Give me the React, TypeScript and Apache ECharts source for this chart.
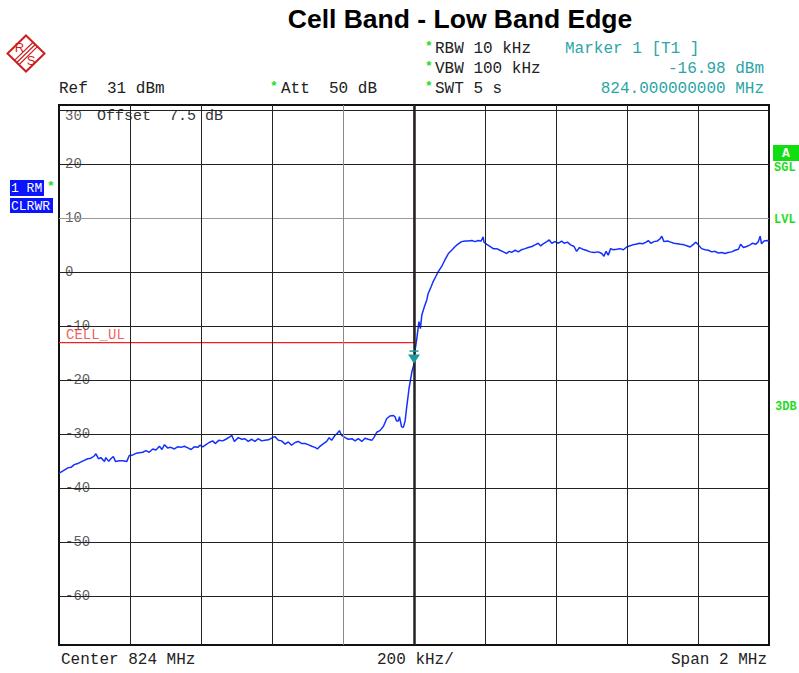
import React, { useEffect, useRef } from "react";
import * as echarts from "echarts";

// Spectrum analyzer trace: frequency (MHz) and level (dBm)
const traceFreq = [
  823.000, 823.010, 823.025, 823.034, 823.043, 823.053, 823.062, 823.071, 823.081, 823.090,
  823.099, 823.104, 823.111, 823.118, 823.128, 823.132, 823.140, 823.146, 823.153, 823.159,
  823.170, 823.179, 823.191, 823.198, 823.208, 823.217, 823.226, 823.236, 823.245, 823.254,
  823.264, 823.273, 823.283, 823.290, 823.297, 823.306, 823.315, 823.325, 823.334, 823.344,
  823.353, 823.363, 823.372, 823.381, 823.391, 823.397, 823.405, 823.414, 823.423, 823.433,
  823.440, 823.450, 823.461, 823.470, 823.480, 823.487, 823.494, 823.505, 823.515, 823.524,
  823.533, 823.543, 823.552, 823.561, 823.571, 823.580, 823.590, 823.599, 823.608, 823.618,
  823.627, 823.637, 823.646, 823.655, 823.665, 823.674, 823.684, 823.693, 823.702, 823.712,
  823.721, 823.728, 823.735, 823.745, 823.754, 823.761, 823.768, 823.777, 823.784, 823.790,
  823.796, 823.806, 823.815, 823.825, 823.834, 823.843, 823.853, 823.862, 823.871, 823.881,
  823.887, 823.895, 823.904, 823.914, 823.923, 823.932, 823.942, 823.946, 823.951, 823.956,
  823.959, 823.965, 823.970, 823.975, 823.979, 823.986, 823.994, 824.000, 824.003, 824.008,
  824.014, 824.018, 824.022, 824.029, 824.036, 824.040, 824.048, 824.054, 824.061, 824.068,
  824.078, 824.087, 824.097, 824.106, 824.116, 824.123, 824.134, 824.144, 824.153, 824.163,
  824.172, 824.181, 824.189, 824.195, 824.197, 824.205, 824.214, 824.223, 824.233, 824.242,
  824.252, 824.261, 824.268, 824.275, 824.285, 824.294, 824.303, 824.313, 824.322, 824.332,
  824.341, 824.350, 824.357, 824.364, 824.374, 824.381, 824.388, 824.397, 824.407, 824.416,
  824.423, 824.432, 824.441, 824.451, 824.458, 824.466, 824.475, 824.485, 824.496, 824.507,
  824.519, 824.529, 824.535, 824.541, 824.547, 824.554, 824.561, 824.571, 824.580, 824.590,
  824.599, 824.607, 824.616, 824.625, 824.635, 824.644, 824.654, 824.660, 824.667, 824.676,
  824.685, 824.693, 824.698, 824.704, 824.714, 824.723, 824.732, 824.742, 824.751, 824.761,
  824.770, 824.778, 824.787, 824.794, 824.801, 824.810, 824.820, 824.829, 824.839, 824.848,
  824.857, 824.867, 824.876, 824.885, 824.895, 824.904, 824.914, 824.920, 824.928, 824.937,
  824.947, 824.954, 824.963, 824.970, 824.975, 824.979, 824.986, 824.995, 825.000,
];

const traceLevel = [
  -37.2, -36.8, -36.2, -36.1, -35.6, -35.4, -35.1, -34.8, -34.5, -34.4,
  -34.0, -33.6, -34.5, -34.3, -35.0, -34.3, -35.0, -34.5, -34.1, -35.0,
  -34.9, -34.9, -35.0, -33.9, -33.8, -33.5, -33.4, -33.3, -33.0, -33.3,
  -32.7, -32.9, -32.2, -32.8, -31.9, -32.5, -32.4, -32.7, -32.3, -32.4,
  -32.2, -32.5, -32.8, -32.3, -32.4, -32.0, -32.3, -31.9, -31.5, -31.2,
  -31.7, -31.1, -31.2, -30.9, -30.5, -30.2, -31.3, -30.6, -30.9, -30.8,
  -31.3, -30.9, -31.3, -30.8, -31.2, -31.1, -31.0, -30.7, -30.4, -31.1,
  -31.2, -31.8, -31.4, -32.0, -31.5, -31.3, -31.7, -31.7, -31.9, -32.2,
  -32.4, -32.7, -32.2, -31.7, -31.3, -30.6, -31.1, -30.2, -29.8, -29.3,
  -30.2, -30.6, -30.9, -30.8, -31.2, -30.8, -31.3, -30.7, -30.9, -31.1,
  -30.6, -29.6, -29.3, -28.5, -27.1, -26.6, -26.5, -26.7, -27.5, -27.5,
  -26.7, -28.6, -28.7, -27.5, -25.2, -21.5, -18.4, -16.98, -14.4, -12.2,
  -9.1, -10.4, -7.9, -6.4, -5.1, -3.9, -2.7, -1.7, -0.8, 0.1,
  1.1, 2.3, 3.5, 4.1, 4.8, 5.2, 5.7, 5.8, 5.8, 5.9,
  5.7, 5.9, 5.8, 6.6, 5.6, 5.2, 4.8, 4.4, 4.4, 4.1,
  3.8, 3.5, 3.9, 3.7, 4.1, 3.8, 4.2, 4.4, 4.6, 4.8,
  5.1, 5.4, 4.9, 5.3, 5.7, 6.0, 5.4, 5.7, 5.4, 5.8,
  5.4, 5.6, 5.1, 4.8, 3.9, 4.6, 4.3, 4.1, 3.8, 3.7,
  3.8, 3.5, 3.0, 3.9, 3.2, 4.4, 4.2, 4.3, 4.4, 4.2,
  4.7, 4.9, 5.1, 5.2, 5.4, 5.3, 5.6, 5.9, 5.4, 5.7,
  5.8, 6.2, 6.7, 5.7, 5.8, 5.6, 5.4, 5.3, 5.2, 5.1,
  4.9, 4.7, 5.2, 5.6, 5.1, 4.4, 4.2, 4.1, 3.8, 3.9,
  3.6, 3.7, 3.5, 3.7, 3.8, 4.1, 4.3, 5.2, 4.6, 4.8,
  5.1, 5.4, 5.2, 5.7, 6.7, 5.3, 5.8, 5.9, 5.8,
];

// Display range
const freqStart = 823;
const freqStop = 825;
const refLevel = 31;
const bottomLevel = -69;

// Graticule
const freqGridLines = [823.2, 823.4, 823.6, 823.8, 824.0, 824.2, 824.4, 824.6, 824.8];
const levelGridLines = [30, 20, 10, 0, -10, -20, -30, -40, -50, -60];
const levelTickLabels = [30, 20, 10, 0, -10, -20, -30, -40, -50, -60];

// Limit line CELL_UL
const limitName = "CELL_UL";
const limitFreq = [823, 824, 824];
const limitLevel = [-13, -13, 31];

// Marker 1
const markerFreq = 824.0;
const markerLevel = -16.98;

const MONO = '"Courier New", "Liberation Mono", monospace';
const TEAL = "#2aa6a6";
const GREEN = "#22dd22";
const RED_LOGO = "#cc1f1f";

export default function App() {
  const ref = useRef<HTMLDivElement>(null);

  useEffect(() => {
    if (!ref.current) return;
    const chart = echarts.init(ref.current, null, { renderer: "svg" });

    const gridMarks = [
      ...levelGridLines.map((v) => ({
        yAxis: v,
        lineStyle: { color: v === 10 ? "#9a9a9a" : "#222", width: 1, type: "solid" },
      })),
      ...freqGridLines.map((v) => ({
        xAxis: v,
        lineStyle: {
          color: v === 823.8 ? "#8a8a8a" : "#222",
          width: v === 824.0 ? 2.5 : 1,
          type: "solid",
        },
      })),
    ];

    const monoText = (
      text: string,
      x: number,
      y: number,
      fill = "#222",
      align = "left",
      size = 16
    ) => ({
      type: "text",
      x,
      y,
      silent: true,
      style: {
        text,
        fill,
        font: `${size}px ${MONO}`,
        textAlign: align,
        textVerticalAlign: "middle",
      },
    });

    const star = (x: number, y: number) => ({
      type: "text",
      x,
      y,
      silent: true,
      style: {
        text: "*",
        fill: GREEN,
        font: `bold 13px ${MONO}`,
        textAlign: "left",
        textVerticalAlign: "middle",
      },
    });

    const option = {
      animation: false,
      backgroundColor: "#fff",
      grid: {
        left: 59,
        right: 30,
        top: 105,
        bottom: 28,
        show: true,
        borderColor: "#111",
        borderWidth: 2,
        backgroundColor: "#fff",
      },
      xAxis: { type: "value", min: freqStart, max: freqStop, show: false },
      yAxis: { type: "value", min: bottomLevel, max: refLevel, show: false },
      series: [
        {
          name: "graticule",
          type: "line",
          data: [],
          z: 1,
          silent: true,
          markLine: {
            silent: true,
            symbol: ["none", "none"],
            label: { show: false },
            emphasis: { disabled: true },
            data: gridMarks,
          },
        },
        {
          name: limitName,
          type: "line",
          z: 2,
          silent: true,
          symbol: "none",
          lineStyle: { color: "#ee2222", width: 1.2 },
          data: limitFreq.map((f, i) => [f, limitLevel[i]]),
        },
        {
          name: "1 RM",
          type: "line",
          z: 3,
          silent: true,
          symbol: "none",
          lineStyle: { color: "#1430ff", width: 1.5 },
          data: traceFreq.map((f, i) => [f, traceLevel[i]]),
          markPoint: {
            silent: true,
            label: { show: false },
            data: [
              {
                coord: [markerFreq, markerLevel],
                symbol: "triangle",
                symbolRotate: 180,
                symbolSize: [12, 9],
                symbolOffset: [0, -5],
                itemStyle: { color: "#179c9c" },
              },
              {
                coord: [markerFreq, markerLevel],
                symbol: "rect",
                symbolSize: [9, 1.5],
                symbolOffset: [0, -13],
                itemStyle: { color: "#179c9c" },
              },
            ],
          },
        },
        {
          name: "levelLabels",
          type: "scatter",
          z: 4,
          silent: true,
          symbolSize: 0,
          clip: false,
          data: levelTickLabels.map((v) =>
            v === refLevel - 1
              ? { value: [freqStart, v], label: { offset: [0, 6], backgroundColor: "transparent" } }
              : { value: [freqStart, v] }
          ),
          label: {
            show: true,
            position: "right",
            distance: 5,
            formatter: (p: any) => String(p.value[1]),
            color: "#333",
            fontFamily: MONO,
            fontSize: 14,
            lineHeight: 11,
            backgroundColor: "#fff",
            padding: [0, 1],
          },
        },
        {
          name: "limitLabel",
          type: "scatter",
          z: 5,
          silent: true,
          symbolSize: 0,
          clip: false,
          data: [[limitFreq[0], limitLevel[0]]],
          label: {
            show: true,
            formatter: limitName,
            position: "right",
            distance: 7,
            offset: [0, -8],
            color: "#ee3333",
            fontFamily: MONO,
            fontSize: 14,
            lineHeight: 10,
          },
        },
      ],
      graphic: [
        // Title
        {
          type: "text",
          x: 460,
          y: 19,
          silent: true,
          style: {
            text: "Cell Band - Low Band Edge",
            fill: "#000",
            font: 'bold 26.5px "Liberation Sans", Arial, sans-serif',
            textAlign: "center",
            textVerticalAlign: "middle",
          },
        },
        // Rohde & Schwarz logo
        {
          type: "polygon",
          silent: true,
          shape: { points: [[26, 35.5], [44.5, 53.5], [26, 71.5], [7.5, 53.5]] },
          style: { fill: "none", stroke: RED_LOGO, lineWidth: 2 },
        },
        ...[-2.2, 0, 2.2].map((d) => ({
          type: "line",
          silent: true,
          shape: { x1: 16.5 + d, y1: 62.8 + d, x2: 35.5 + d, y2: 44.2 + d },
          style: { stroke: RED_LOGO, lineWidth: 1.2 },
        })),
        {
          type: "text",
          x: 19.5,
          y: 47,
          silent: true,
          style: {
            text: "R",
            fill: RED_LOGO,
            font: '13px "Liberation Sans", Arial, sans-serif',
            textAlign: "center",
            textVerticalAlign: "middle",
          },
        },
        {
          type: "text",
          x: 31,
          y: 60,
          silent: true,
          style: {
            text: "S",
            fill: RED_LOGO,
            font: '13px "Liberation Sans", Arial, sans-serif',
            textAlign: "center",
            textVerticalAlign: "middle",
          },
        },
        // Settings header
        star(425, 46),
        monoText("RBW 10 kHz", 435, 49),
        star(425, 66),
        monoText("VBW 100 kHz", 435, 69),
        star(425, 86),
        monoText("SWT 5 s", 435, 89),
        monoText("Ref  31 dBm", 59, 89),
        star(270, 86),
        monoText("Att  50 dB", 281, 89),
        monoText("Marker 1 [T1 ]", 565, 49, TEAL),
        monoText("-16.98 dBm", 764, 69, TEAL, "right"),
        monoText("824.000000000 MHz", 764, 89, TEAL, "right"),
        monoText("Offset  7.5 dB", 97, 116, "#333", "left", 15),
        // Trace indicator boxes
        {
          type: "rect",
          silent: true,
          shape: { x: 10, y: 180, width: 34, height: 16 },
          style: { fill: "#0a14ff" },
        },
        {
          type: "rect",
          silent: true,
          shape: { x: 10, y: 198, width: 43, height: 15 },
          style: { fill: "#0a14ff" },
        },
        monoText("1 RM", 11, 188.5, "#fff", "left", 13),
        monoText("CLRWR", 11, 206, "#fff", "left", 13),
        star(47, 186),
        // Status flags on the right
        {
          type: "rect",
          silent: true,
          shape: { x: 773, y: 145, width: 26, height: 16 },
          style: { fill: "#11dd11" },
        },
        {
          type: "text",
          x: 786,
          y: 153,
          silent: true,
          style: {
            text: "A",
            fill: "#fff",
            font: `bold 13px ${MONO}`,
            textAlign: "center",
            textVerticalAlign: "middle",
          },
        },
        {
          type: "text",
          x: 774,
          y: 168,
          silent: true,
          style: { text: "SGL", fill: GREEN, font: `bold 12px ${MONO}`, textVerticalAlign: "middle" },
        },
        {
          type: "text",
          x: 774,
          y: 220,
          silent: true,
          style: { text: "LVL", fill: GREEN, font: `bold 12px ${MONO}`, textVerticalAlign: "middle" },
        },
        {
          type: "text",
          x: 775,
          y: 407,
          silent: true,
          style: { text: "3DB", fill: GREEN, font: `bold 12px ${MONO}`, textVerticalAlign: "middle" },
        },
        // Frequency footer
        monoText("Center 824 MHz", 61, 660),
        monoText("200 kHz/", 377, 660),
        monoText("Span 2 MHz", 767, 660, "#222", "right"),
      ],
    };

    chart.setOption(option as any);
    return () => chart.dispose();
  }, []);

  return (
    <div
      ref={ref}
      style={{ position: "fixed", left: 0, top: 0, width: 799, height: 673, background: "#fff" }}
    />
  );
}
